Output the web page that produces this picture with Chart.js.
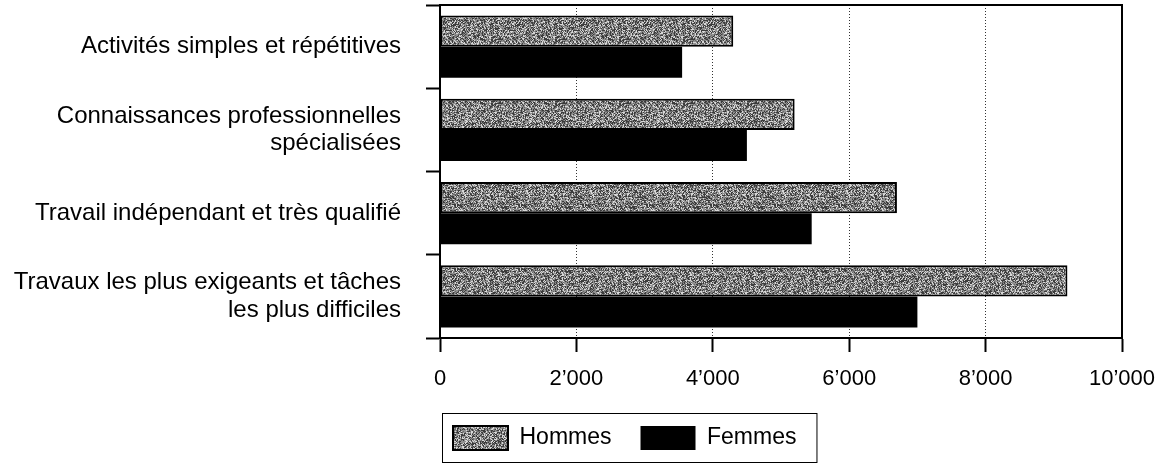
<!DOCTYPE html>
<html>
<head>
<meta charset="utf-8">
<script src="https://cdn.jsdelivr.net/npm/chart.js@4/dist/chart.umd.min.js"></script>
<style>
  html, body { margin: 0; padding: 0; background: #fff; }
  #wrap { width: 1159px; height: 466px; }
</style>
</head>
<body>
<div id="wrap"><canvas id="chart"></canvas></div>
<script>
const categories = [
  'Activités simples et répétitives',
  ['Connaissances professionnelles', 'spécialisées'],
  'Travail indépendant et très qualifié',
  ['Travaux les plus exigeants et tâches', 'les plus difficiles']
];
const hommes = [4300, 5200, 6700, 9200];
const femmes = [3550, 4500, 5450, 7000];
const xTicks = [0, 2000, 4000, 6000, 8000, 10000];

// speckled grey fill like the scanned screen tone
function makeSpeckle() {
  const c = document.createElement('canvas');
  c.width = 64; c.height = 64;
  const g = c.getContext('2d');
  const img = g.createImageData(64, 64);
  for (let y = 0; y < 64; y++) {
    for (let x = 0; x < 64; x++) {
      const h = Math.sin(x * 12.9898 + y * 78.233) * 43758.5453;
      const v = h - Math.floor(h);
      let shade = 145;
      if (v < 0.32) shade = 60;
      else if (v < 0.52) shade = 215;
      else if (v < 0.64) shade = 105;
      const k = (y * 64 + x) * 4;
      img.data[k] = img.data[k + 1] = img.data[k + 2] = shade;
      img.data[k + 3] = 255;
    }
  }
  g.putImageData(img, 0, 0);
  return g.createPattern(c, 'repeat');
}

const LEGEND_PAD = 29;

// plot frame, legend placement and box around legend
const framePlugin = {
  id: 'frame',
  afterLayout(chart) {
    const lg = chart.legend;
    const h = lg.bottom - lg.top;
    const w = lg.right - lg.left;
    lg.left = chart.chartArea.left - 16;
    lg.right = lg.left + w;
    lg.top = 426 - LEGEND_PAD;
    lg.bottom = lg.top + h;
  },
  afterDraw(chart) {
    const ctx = chart.ctx;
    const a = chart.chartArea;
    ctx.save();
    ctx.strokeStyle = '#000';
    ctx.lineWidth = 2;
    ctx.strokeRect(a.left, a.top, a.right - a.left, a.bottom - a.top);
    const boxes = chart.legend.legendHitBoxes;
    if (boxes && boxes.length) {
      const first = boxes[0];
      const last = boxes[boxes.length - 1];
      const l = first.left - 11;
      const r = last.left + last.width + 20;
      const t = first.top - 13;
      const b = first.top + first.height + 12;
      ctx.lineWidth = 1;
      ctx.strokeRect(l + 0.5, t + 0.5, r - l, b - t);
    }
    ctx.restore();
  }
};

Chart.defaults.font.family = '"Liberation Sans", Arial, sans-serif';
Chart.defaults.font.size = 22;
Chart.defaults.color = '#000';

new Chart(document.getElementById('chart'), {
  type: 'bar',
  data: {
    labels: categories,
    datasets: [
      {
        label: 'Hommes',
        data: hommes,
        backgroundColor: makeSpeckle(),
        borderColor: '#000',
        borderWidth: 2,
        borderSkipped: false
      },
      {
        label: 'Femmes',
        data: femmes,
        backgroundColor: '#000',
        borderColor: '#000',
        borderWidth: 0
      }
    ]
  },
  options: {
    indexAxis: 'y',
    responsive: true,
    maintainAspectRatio: false,
    animation: false,
    categoryPercentage: 0.75,
    barPercentage: 1.0,
    layout: { padding: { left: 0, right: 37, top: 5, bottom: 0 } },
    plugins: {
      tooltip: { enabled: false },
      legend: {
        position: 'bottom',
        align: 'start',
        fullSize: false,
        labels: {
          boxWidth: 55,
          boxHeight: 24,
          padding: LEGEND_PAD,
          font: { size: 23 }
        }
      }
    },
    scales: {
      x: {
        min: 0,
        max: 10000,
        afterBuildTicks: s => { s.ticks = xTicks.map(v => ({ value: v })); },
        afterFit: s => { s.height = 65; s.paddingRight = 0; s.paddingLeft = 0; },
        ticks: {
          padding: 14,
          font: { size: 22 },
          callback: v => v === 0 ? '0' : String(v).replace(/(\d)(?=(\d{3})+$)/g, '$1’')
        },
        grid: {
          color: '#333',
          lineWidth: 1,
          tickLength: 14,
          tickColor: '#000',
          tickWidth: 2
        },
        border: { color: '#000', width: 2, dash: [1, 2] }
      },
      y: {
        afterFit: s => { s.width = 440; s.paddingTop = 0; s.paddingBottom = 0; },
        ticks: {
          padding: 25,
          font: { size: 24, lineHeight: 1.15 }
        },
        grid: {
          drawOnChartArea: false,
          tickLength: 14,
          tickColor: '#000',
          tickWidth: 2
        },
        border: { color: '#000', width: 2 }
      }
    }
  },
  plugins: [framePlugin]
});
</script>
</body>
</html>
